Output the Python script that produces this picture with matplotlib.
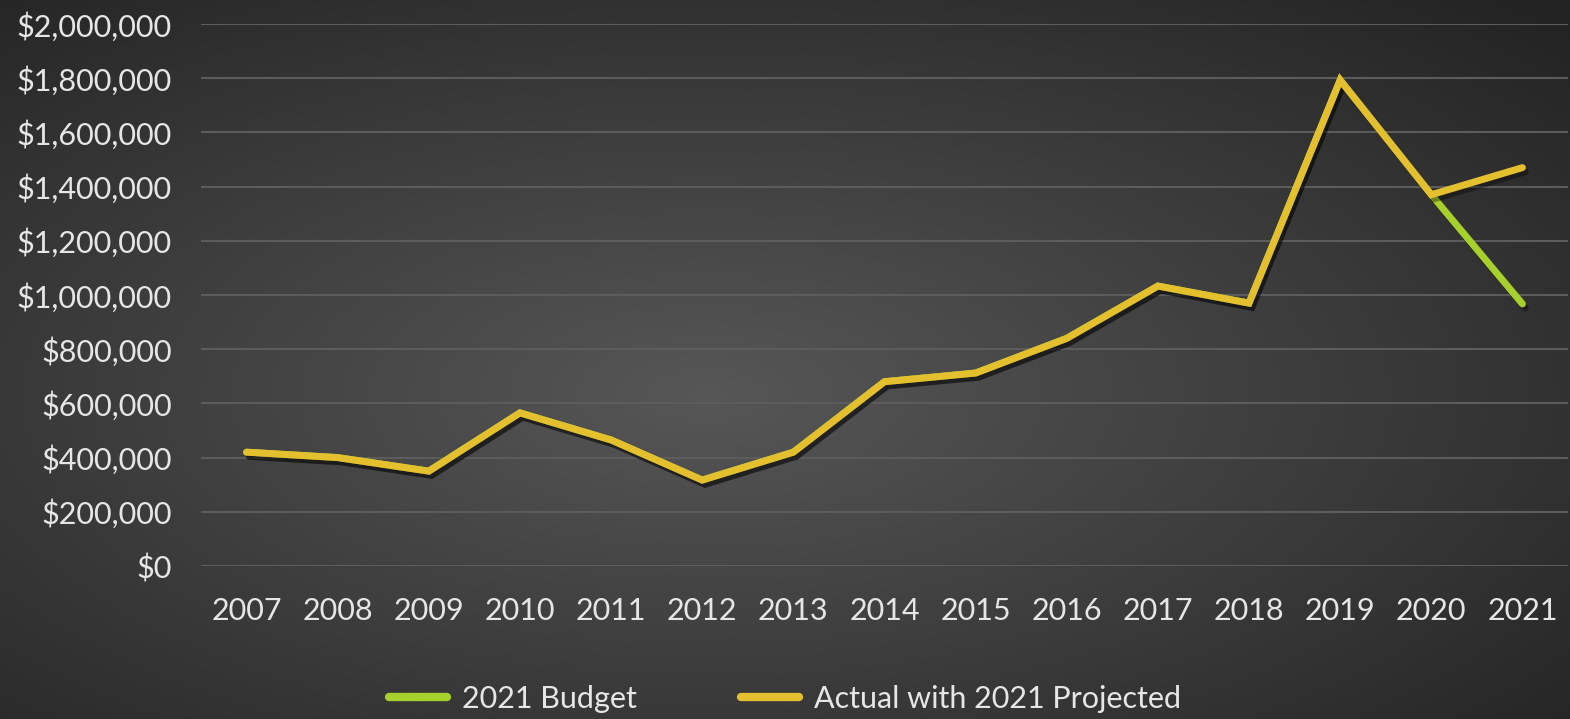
import numpy as np
import matplotlib.pyplot as plt
import matplotlib.patheffects as pe
from matplotlib.ticker import FuncFormatter

years = ['2007', '2008', '2009', '2010', '2011', '2012', '2013', '2014',
         '2015', '2016', '2017', '2018', '2019', '2020', '2021']
actual = [420000, 400000, 350000, 565000, 465000, 317000, 420000, 680000,
          712000, 840000, 1033000, 970000, 1793000, 1370000, 1470000]
budget = [420000, 400000, 350000, 565000, 465000, 317000, 420000, 680000,
          712000, 840000, 1033000, 970000, 1793000, 1370000, 967000]

plt.rcParams['font.family'] = ['Lato', 'DejaVu Sans']
txt = '#e6e6e6'

fig = plt.figure(figsize=(15.7, 7.19), dpi=100)

# radial background
bg = fig.add_axes([0, 0, 1, 1])
yy, xx = np.mgrid[0:1:300j, 0:1:650j]
r = np.sqrt(((xx - 0.45) / 0.75) ** 2 + ((yy - 0.45) / 0.75) ** 2)
shade = 0.34 - 0.2 * np.clip(r, 0, 1)
bg.imshow(np.dstack([shade] * 3), aspect='auto', extent=[0, 1, 0, 1], origin='lower')
bg.set_axis_off()

ax = fig.add_axes([201 / 1570, 153 / 719, 1367 / 1570, 542 / 719])
ax.patch.set_alpha(0)
x = np.arange(len(years))

shadow = [pe.SimpleLineShadow(offset=(2, -3), shadow_color='black', alpha=0.35), pe.Normal()]
ax.plot(x, budget, color='#a6d02b', lw=5, solid_capstyle='round', solid_joinstyle='miter',
        label='2021 Budget', path_effects=shadow, zorder=3)
ax.plot(x, actual, color='#e4c02f', lw=5, solid_capstyle='round', solid_joinstyle='miter',
        label='Actual with 2021 Projected', path_effects=shadow, zorder=4)

ax.set_xlim(-0.5, len(years) - 0.5)
ax.set_ylim(0, 2000000)
ax.set_yticks(np.arange(0, 2000001, 200000))
ax.yaxis.set_major_formatter(FuncFormatter(lambda v, p: '${:,.0f}'.format(v)))
ax.set_xticks(x)
ax.set_xticklabels(years)
ax.grid(axis='y', color='#5c5c5c', lw=1.5)
ax.set_axisbelow(True)
for s in ax.spines.values():
    s.set_visible(False)
ax.tick_params(length=0, labelsize=22, colors=txt)
ax.tick_params(axis='y', pad=21)
ax.tick_params(axis='x', pad=22)

leg = fig.legend(loc='lower center', bbox_to_anchor=(0.5, -0.03), ncol=2, frameon=False,
                 fontsize=22, labelcolor=txt, handlelength=1.9, columnspacing=3.4,
                 handletextpad=0.5)
for h in leg.get_lines():
    h.set_linewidth(6)
    h.set_path_effects([])

fig.savefig('out.png', dpi=100)
